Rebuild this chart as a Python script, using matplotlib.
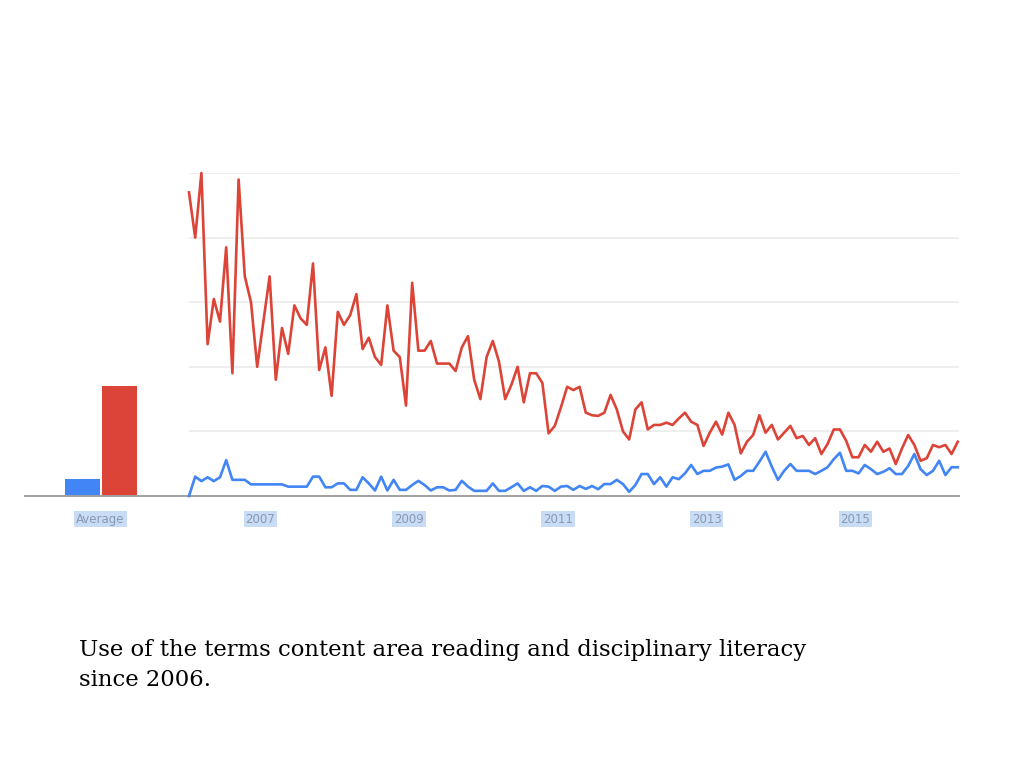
import matplotlib
matplotlib.use("Agg")
import matplotlib.pyplot as plt

# ---- data (monthly, Jan 2006 .. May 2016) ----
red_series = [94, 80, 100, 47, 61, 54, 77, 38, 98, 68, 60, 40, 54, 68, 36, 52, 44, 59, 55, 53,
              72, 39, 46, 31, 57, 53, 56, 62.5, 45.5, 49, 43, 40.6, 59, 45, 43, 28, 66, 45, 45, 48,
              41, 41, 41, 38.7, 46, 49.5, 36, 30, 43, 48, 41.6, 30, 34.4, 40, 29, 38, 38, 35, 19.4, 21.7,
              27.5, 33.8, 32.8, 33.8, 25.8, 25, 24.8, 25.8, 31.3, 26.8, 20, 17.5, 26.8, 29, 20.6, 22, 22, 22.7, 22, 24,
              25.8, 23, 22, 15.5, 19.6, 23, 19, 25.8, 22, 13.2, 16.8, 18.9, 25, 19.6, 22, 17.5, 19.6, 21.7, 17.9, 18.6,
              15.8, 17.9, 13, 16.1, 20.6, 20.6, 17.1, 12, 12, 15.8, 13.7, 16.8, 13.7, 14.7, 9.9, 14.7, 18.9, 15.8, 10.9, 11.7,
              15.8, 15.1, 15.8, 13, 16.8]
blue_series = [0, 6, 4.6, 5.8, 4.6, 5.8, 11.1, 5, 5, 5, 3.6, 3.6, 3.6, 3.6, 3.6, 3.6, 2.9, 2.9, 2.9, 2.9,
               6, 6, 2.7, 2.7, 3.9, 3.9, 1.9, 1.9, 5.8, 3.9, 1.7, 6, 1.7, 5, 1.9, 1.9, 3.4, 4.7, 3.4, 1.7,
               2.7, 2.7, 1.7, 1.9, 4.7, 2.9, 1.6, 1.6, 1.6, 3.9, 1.6, 1.6, 2.7, 3.9, 1.6, 2.7, 1.6, 3.1, 2.9, 1.6,
               2.9, 3.1, 1.9, 3.1, 2.2, 3.1, 2.1, 3.7, 3.7, 5, 3.7, 1.3, 3.4, 6.8, 6.8, 3.7, 5.8, 2.9, 5.8, 5.2,
               7, 9.6, 6.8, 7.8, 7.8, 8.8, 9.1, 9.8, 5, 6.2, 7.8, 7.8, 10.6, 13.7, 9.1, 5, 7.8, 9.9, 7.8, 7.8,
               7.8, 6.8, 7.8, 8.9, 11.4, 13.4, 7.8, 7.8, 7, 9.6, 8.3, 6.8, 7.5, 8.6, 6.8, 6.8, 9.3, 13, 8.3, 6.5,
               7.8, 10.9, 6.5, 8.9, 8.9]
average_values = [5.3, 34]
average_label = "Average"
start_year = 2006
year_labels = [2007, 2009, 2011, 2013, 2015]
caption = "Use of the terms content area reading and disciplinary literacy\nsince 2006."

BLUE = "#4285f4"
RED = "#db4437"
GRID = "#ebebeb"
AXIS = "#a0a0a0"
LABEL_TXT = "#8a98b2"
LABEL_BG = "#c9dcf6"

W, H = 1024, 768
fig = plt.figure(figsize=(W / 100, H / 100), dpi=100)
fig.patch.set_facecolor("white")

def px_rect(x0, x1, ytop, ybot):
    return [x0 / W, 1 - ybot / H, (x1 - x0) / W, (ybot - ytop) / H]

y_top, y_base = 173, 496

def style_labels(axis_obj):
    for lbl in axis_obj.get_xticklabels():
        lbl.set_fontsize(8.5)
        lbl.set_color(LABEL_TXT)
        lbl.set_family(["Liberation Sans Narrow", "DejaVu Sans"])
        lbl.set_bbox(dict(facecolor=LABEL_BG, edgecolor="none", pad=1.3))

# ---- average bars axes ----
axb = fig.add_axes(px_rect(25, 189, y_top, y_base))
step = 37.0
axb.set_xlim(-(82 - 25) / step, (189 - 82) / step)
axb.set_ylim(0, 100)
axb.bar([0, 1], average_values, width=35 / step, color=[BLUE, RED], align="center")
for s in ["top", "right", "left"]:
    axb.spines[s].set_visible(False)
axb.spines["bottom"].set_color(AXIS)
axb.spines["bottom"].set_linewidth(1.4)
axb.set_yticks([])
axb.set_xticks([0.5])
axb.set_xticklabels([average_label])
axb.tick_params(axis="x", length=0, pad=12)
style_labels(axb)

# ---- line axes ----
ax = fig.add_axes(px_rect(189, 959, y_top, y_base))
n = len(red_series)
xs = list(range(n))
ax.set_xlim(0, 124.2)
ax.set_ylim(0, 100)
ax.set_yticks([20, 40, 60, 80, 100])
ax.yaxis.grid(True, color=GRID, linewidth=1.2)
ax.set_axisbelow(True)
ax.tick_params(axis="y", length=0, labelleft=False)
for s in ["top", "right", "left"]:
    ax.spines[s].set_visible(False)
ax.spines["bottom"].set_color(AXIS)
ax.spines["bottom"].set_linewidth(1.4)
ax.plot(xs, blue_series, color=BLUE, linewidth=1.9, solid_joinstyle="round", clip_on=False, zorder=3)
ax.plot(xs, red_series, color=RED, linewidth=1.9, solid_joinstyle="round", clip_on=False, zorder=4)
ax.set_xticks([(y - start_year) * 12 - 0.5 for y in year_labels])
ax.set_xticklabels([str(y) for y in year_labels])
ax.tick_params(axis="x", length=0, pad=12)
style_labels(ax)

# ---- caption ----
fig.text(79 / W, 1 - 686 / H, caption, fontsize=16.4, family="DejaVu Serif",
         color="black", ha="left", va="baseline", linespacing=1.46)

fig.savefig("out.png", dpi=100, facecolor="white")
